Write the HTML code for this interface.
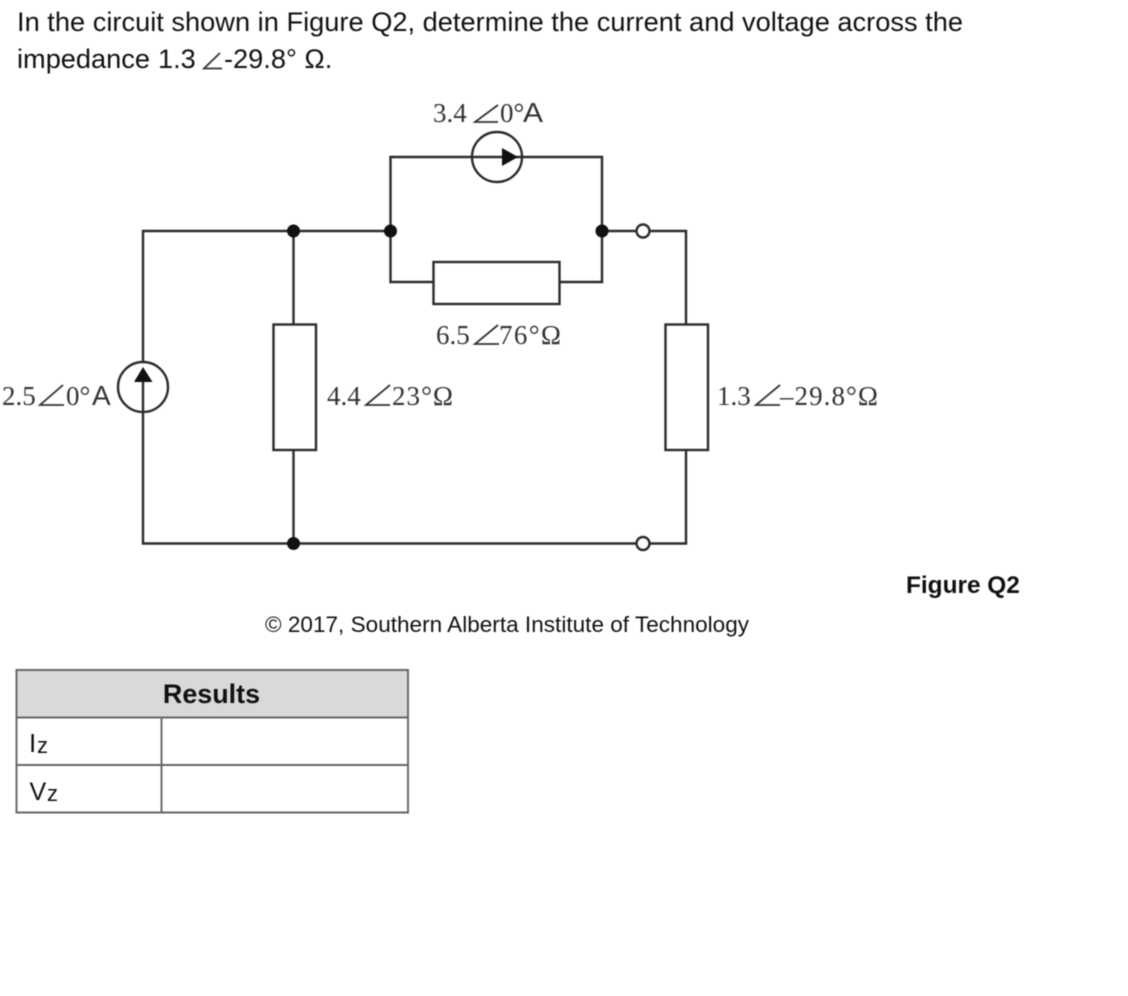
<!DOCTYPE html>
<html lang="en">
<head>
<meta charset="utf-8">
<title>Figure Q2</title>
<style>
html,body{margin:0;padding:0;background:#fff;width:1128px;height:996px;overflow:hidden}
svg{display:block;filter:blur(0.45px)}
.s{font-family:"Liberation Sans",sans-serif;fill:#111}
.t{font-family:"Liberation Serif",serif;fill:#333;font-size:27px}
.a{font-family:"Liberation Sans",sans-serif;fill:#333;font-size:28px}
.w{fill:none;stroke:#2b2b2b;stroke-width:2.4}
.b{fill:#fff;stroke:#2b2b2b;stroke-width:2.4}
.g{fill:none;stroke:#333;stroke-width:1.8}
.tl{fill:none;stroke:#666;stroke-width:1.9}
</style>
</head>
<body>
<svg width="1128" height="996" viewBox="0 0 1128 996" xmlns="http://www.w3.org/2000/svg">
<text class="s" x="17" y="31" font-size="27.2" textLength="946">In the circuit shown in Figure Q2, determine the current and voltage across the</text>
<text class="s" x="17" y="68" font-size="27.2">impedance</text>
<text class="s" x="158" y="68" font-size="27.2">1.3</text>
<path class="g" d="M220 53 L204 68.500 H222" stroke-width="1.300"/>
<text class="s" x="224" y="68" font-size="27.2">-29.8° Ω.</text>

<!-- wires -->
<path class="w" d="M143 362 V231 H390 M143 412 V543.500 H686 V450 M293.500 231 V324 M293.500 450 V543.500"/>
<path class="w" d="M390.500 231 V157 H602 V231 M390.500 231 V282 H433 M560 282 H602 V231 M602 231 H686 V324"/>

<!-- resistors -->
<rect class="b" x="433.500" y="262" width="126" height="42"/>
<rect class="b" x="273.500" y="324.500" width="42.500" height="125.500"/>
<rect class="b" x="665.500" y="324.500" width="42.500" height="125.500"/>

<!-- sources -->
<circle cx="497" cy="157" r="25" fill="none" stroke="#2b2b2b" stroke-width="2.400"/>
<path d="M502 148 L518 157 L502 166 Z" fill="#111"/>
<circle cx="143" cy="387" r="25" fill="#fff" stroke="#2b2b2b" stroke-width="2.400"/>
<path class="w" d="M143 380 V412"/>
<path d="M134 382 L143 367 L152.500 382 Z" fill="#111"/>

<!-- nodes -->
<circle cx="293.500" cy="231" r="6.500" fill="#111"/>
<circle cx="390.500" cy="231" r="6.500" fill="#111"/>
<circle cx="602" cy="231" r="6.500" fill="#111"/>
<circle cx="293.500" cy="543.500" r="6.500" fill="#111"/>
<circle class="b" cx="643" cy="231" r="6.500"/>
<circle class="b" cx="643" cy="543.500" r="6.500"/>

<!-- labels -->
<text class="t" x="433" y="122">3.4</text>
<path class="g" d="M498 105 L475 122 H498"/>
<text class="t" x="500" y="122">0°</text>
<text class="a" x="523" y="122" textLength="20" lengthAdjust="spacingAndGlyphs">A</text>

<text class="t" x="436" y="344">6.5</text>
<path class="g" d="M498 325 L475 344 H499"/>
<text class="t" x="499" y="344" textLength="62">76°Ω</text>

<text class="t" x="2" y="405">2.5</text>
<path class="g" d="M63 385 L40 405 H64"/>
<text class="t" x="66" y="405">0°</text>
<text class="a" x="92" y="405">A</text>

<text class="t" x="327" y="405">4.4</text>
<path class="g" d="M390 385 L366 405 H390"/>
<text class="t" x="392" y="405" textLength="61">23°Ω</text>

<text class="t" x="717" y="405">1.3</text>
<path class="g" d="M780 385 L756 405 H780"/>
<text class="t" x="780" y="405" textLength="98">–29.8°Ω</text>

<text class="s" x="906" y="593" font-size="24.400" font-weight="700">Figure Q2</text>
<text class="s" x="265" y="632" font-size="22.500" textLength="484">© 2017, Southern Alberta Institute of Technology</text>

<!-- table -->
<rect x="16.500" y="670" width="391.500" height="47.500" fill="#d9d9d9"/>
<path class="tl" d="M16.500 670 H408 V812.500 H16.500 Z M16.500 717.500 H408 M16.500 765 H408 M161.500 717.500 V812.500"/>
<text class="s" x="211.500" y="703" font-size="26.900" font-weight="700" text-anchor="middle">Results</text>
<text class="s" x="29" y="752" font-size="26">I</text>
<text class="s" x="37" y="753" font-size="22" fill="#333">z</text>
<text class="s" x="29.500" y="800" font-size="25">V</text>
<text class="s" x="47" y="801" font-size="22" fill="#333">z</text>
</svg>
</body>
</html>
